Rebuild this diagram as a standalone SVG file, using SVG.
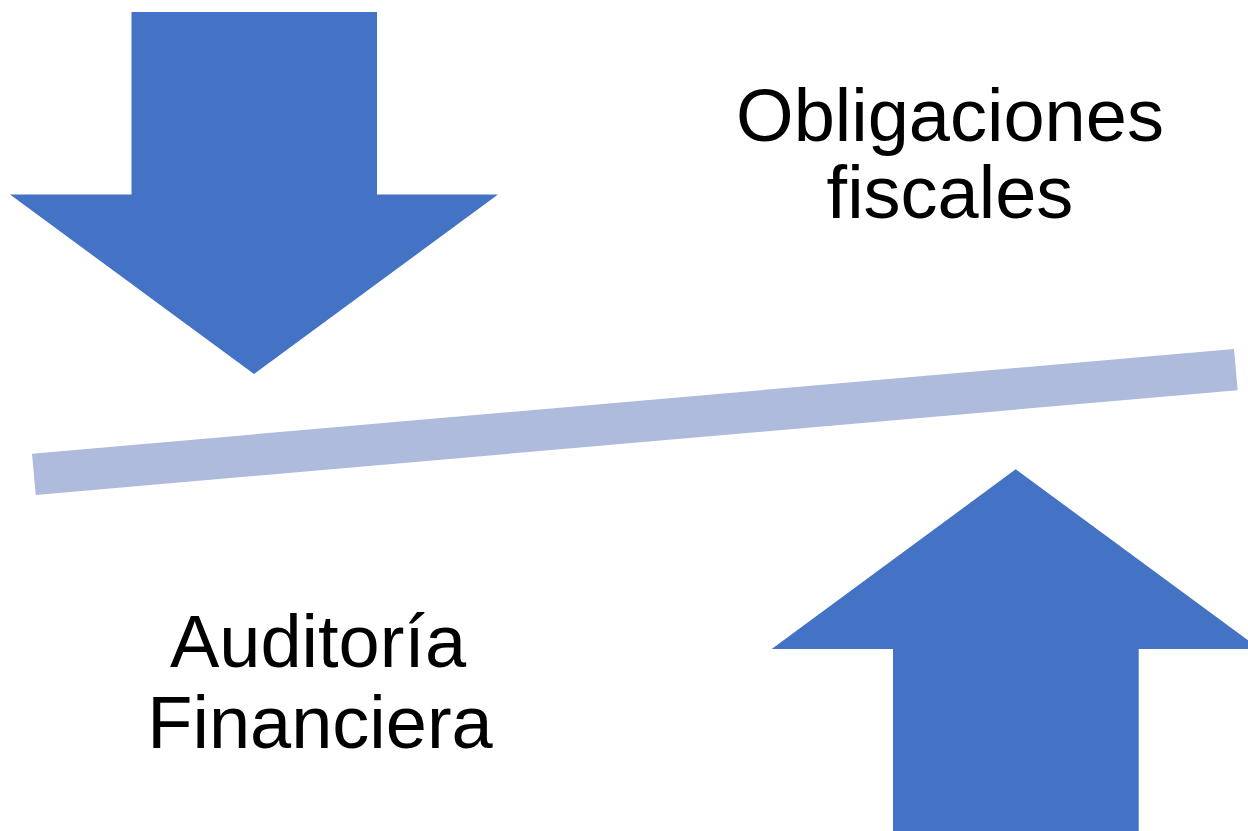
<svg xmlns="http://www.w3.org/2000/svg" width="1248" height="831" viewBox="0 0 1248 831">
<style>
.arrow{fill:#4472C4;}
.bar{fill:#AFBBDC;}
.lbl{font-family:"Liberation Sans",Arial,sans-serif;font-size:74px;fill:#000;text-anchor:middle;}
</style>
<rect width="1248" height="831" fill="#FFFFFF"/>
<g id="connectors">
<polygon id="bar" class="bar" points="32,453.7 1234,349 1237.7,390.3 35.7,495"/>
</g>
<g id="arrow-down">
<polygon class="arrow" points="131.5,12 377,12 377,194.5 498,194.5 254,374 10,194.5 131.5,194.5"/>
</g>
<g id="arrow-up">
<polygon class="arrow" points="1015.7,469.3 1260,649 1138.7,649 1138.7,831 893,831 893,649 771.7,649"/>
</g>
<g id="label-obligaciones">
<text class="lbl" x="950" y="141">Obligaciones</text>
<text class="lbl" x="950" y="218">fiscales</text>
</g>
<g id="label-auditoria">
<text class="lbl" x="318" y="667">Auditoría</text>
<text class="lbl" x="320" y="748">Financiera</text>
</g>
</svg>
